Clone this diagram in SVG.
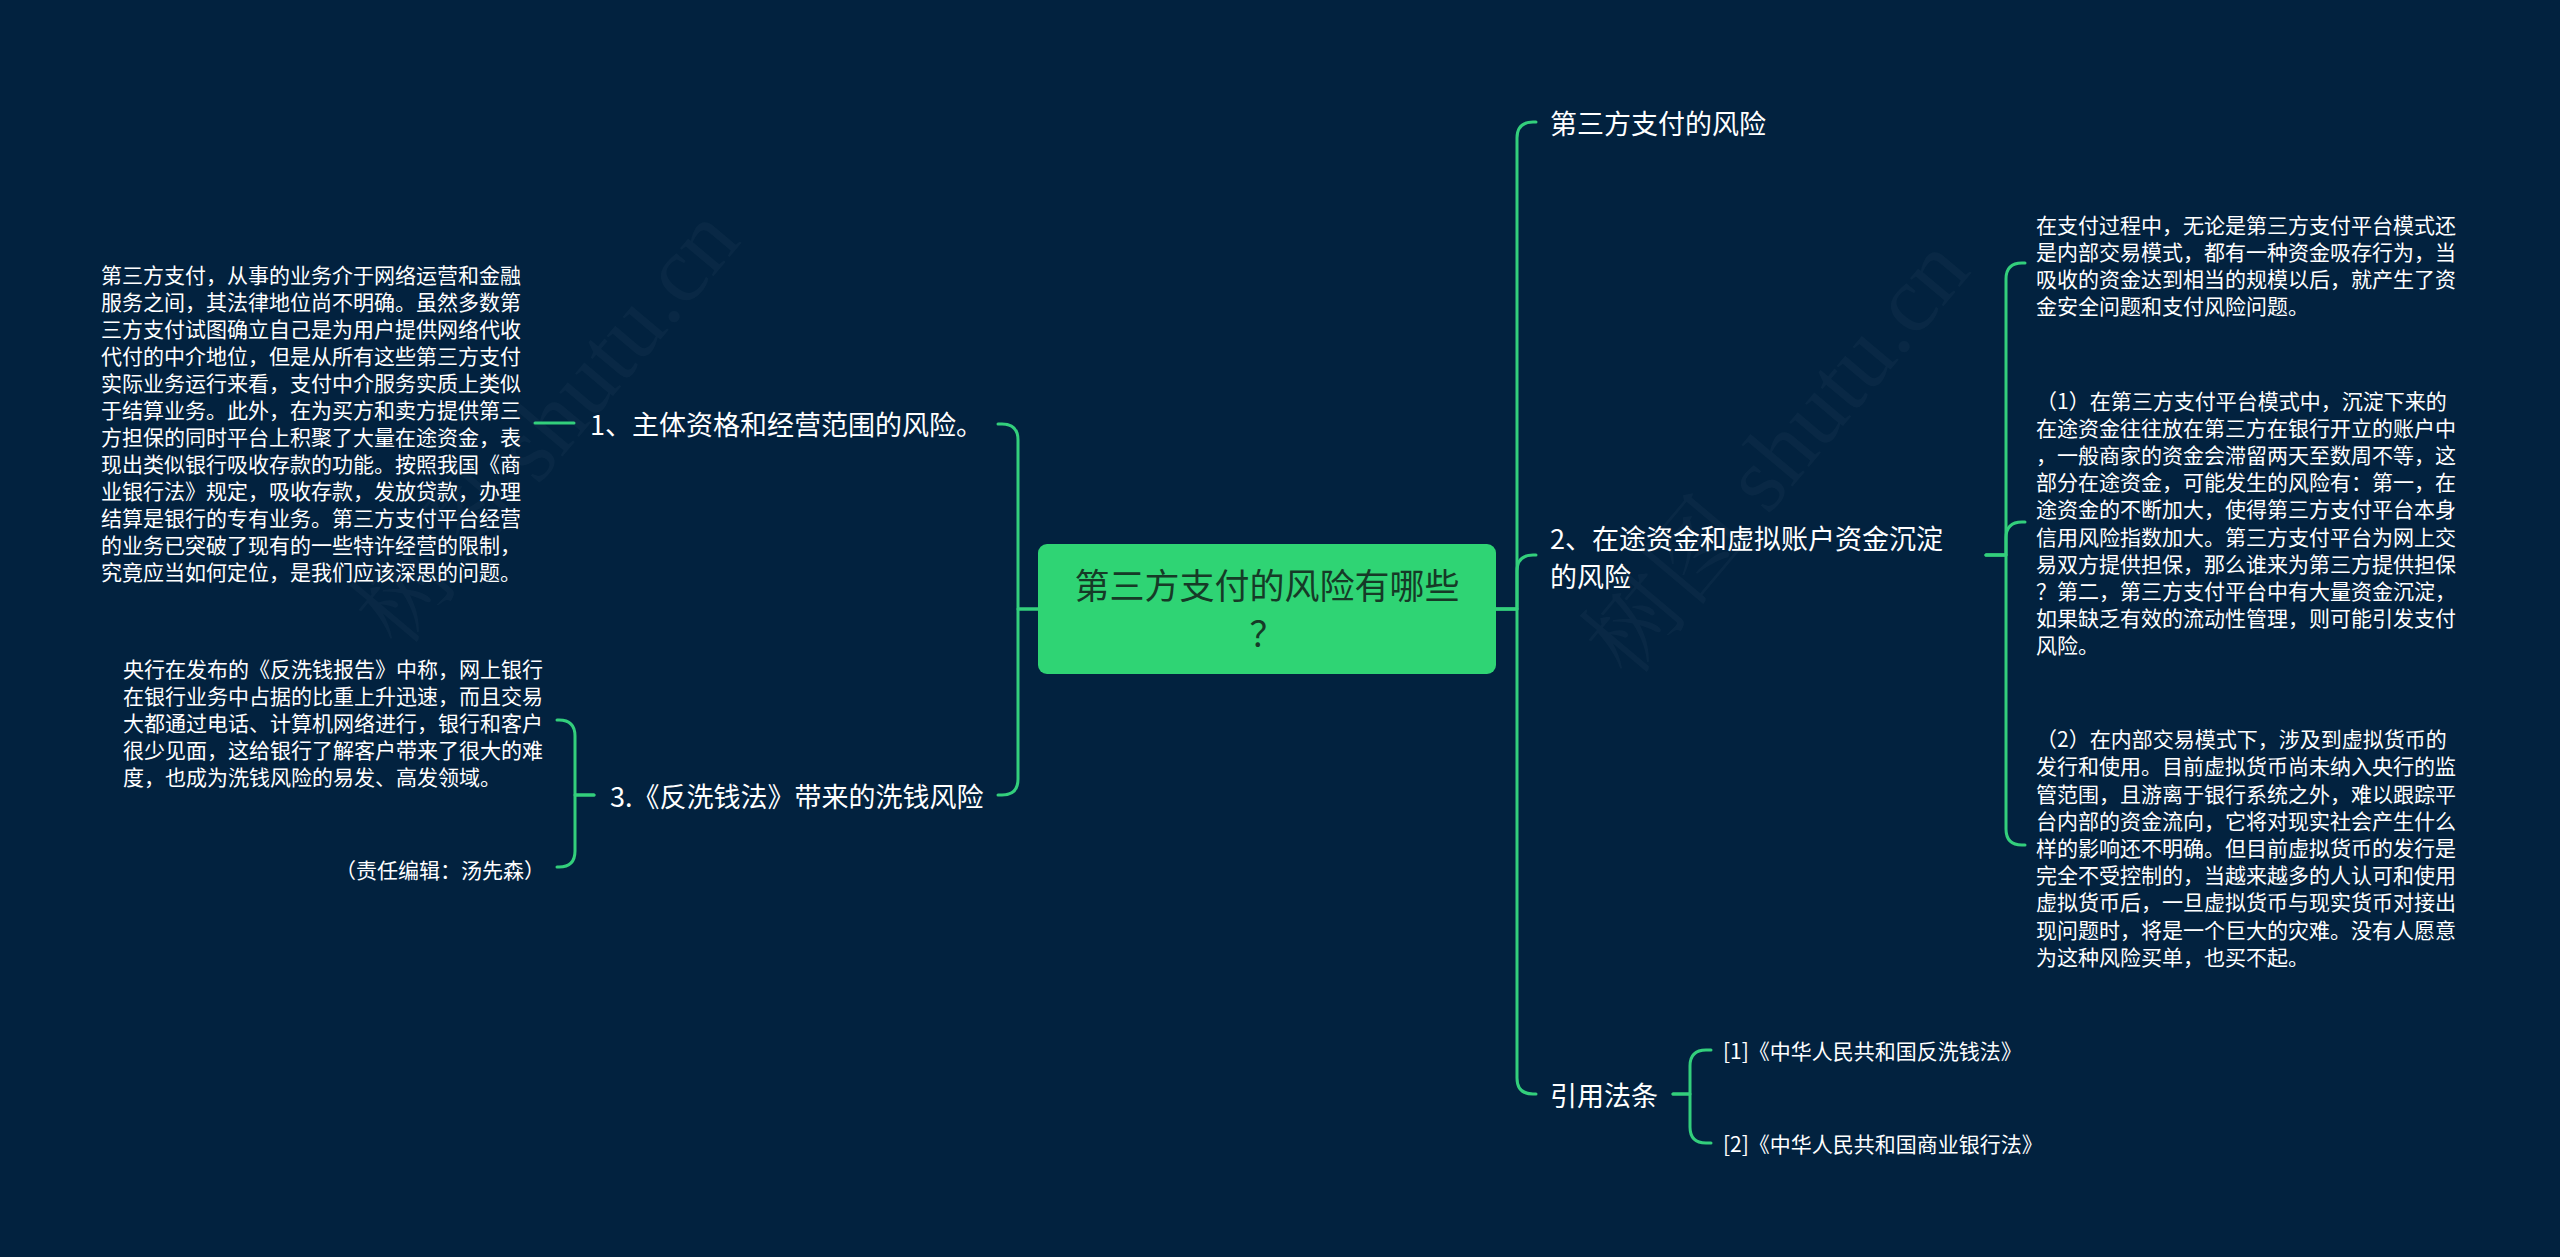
<svg xmlns="http://www.w3.org/2000/svg" width="2560" height="1257" viewBox="0 0 2560 1257">
<style>
.bg{fill:#02223f}
.c{fill:none;stroke:#33cf7c;stroke-width:3;stroke-linecap:round;stroke-linejoin:round}
.t{font-family:"Noto Sans CJK SC","Microsoft YaHei","Noto Sans",sans-serif;dominant-baseline:central;fill:#ffffff}
.main{font-size:27px}
.leaf{font-size:21px}
.root{font-size:35px;fill:#163a27;text-anchor:middle}
.wm{font-family:"Liberation Serif","Noto Serif CJK SC",serif;font-size:95px;fill:#ffffff;fill-opacity:0.03}
</style>
<rect class="bg" x="0" y="0" width="2560" height="1257"/>
<g id="watermark">
<text class="wm" transform="translate(400,650) rotate(-50)">树图 shutu.cn</text>
<text class="wm" transform="translate(1630,680) rotate(-50)">树图 shutu.cn</text>
</g>
<g id="connectors">
<path class="c" d="M1496,609 H1517 V138 Q1517,122 1533,122 H1536"/>
<path class="c" d="M1496,609 H1517 V571 Q1517,555 1533,555 H1536"/>
<path class="c" d="M1496,609 H1517 V1078 Q1517,1094 1533,1094 H1536"/>
<path class="c" d="M1038,609 H1018 V440 Q1018,424 1002,424 H998"/>
<path class="c" d="M1038,609 H1018 V779 Q1018,795 1002,795 H998"/>
<path class="c" d="M574,423 H535"/>
<path class="c" d="M594,795 H575 V736 Q575,720 559,720 H557"/>
<path class="c" d="M594,795 H575 V851 Q575,867 559,867 H557"/>
<path class="c" d="M1986,555 H2006 V279 Q2006,263 2022,263 H2025"/>
<path class="c" d="M1986,555 H2006 V538 Q2006,522 2022,522 H2025"/>
<path class="c" d="M1986,555 H2006 V829 Q2006,845 2022,845 H2025"/>
<path class="c" d="M1673,1094 H1690 V1066 Q1690,1050 1706,1050 H1711"/>
<path class="c" d="M1673,1094 H1690 V1127 Q1690,1143 1706,1143 H1711"/>
</g>
<g id="root">
<rect x="1038" y="544" width="458" height="130" rx="9" fill="#2fd474"/>
<text class="t root"><tspan x="1267" y="583">第三方支付的风险有哪些</tspan><tspan x="1267" y="631">？</tspan></text>
</g>
<g id="n-risk">
<text class="t main" x="1550" y="122">第三方支付的风险</text>
</g>
<g id="n-2">
<text class="t main"><tspan x="1550" y="537">2、在途资金和虚拟账户资金沉淀</tspan><tspan x="1550" y="575">的风险</tspan></text>
</g>
<g id="n-law">
<text class="t main" x="1550" y="1094">引用法条</text>
</g>
<g id="n-1">
<text class="t main" x="590" y="423">1、主体资格和经营范围的风险。</text>
</g>
<g id="n-3">
<text class="t main" x="610" y="795">3.《反洗钱法》带来的洗钱风险</text>
</g>
<g id="leaf-1">
<text class="t leaf" x="101" y="274">第三方支付，从事的业务介于网络运营和金融</text>
<text class="t leaf" x="101" y="301">服务之间，其法律地位尚不明确。虽然多数第</text>
<text class="t leaf" x="101" y="328">三方支付试图确立自己是为用户提供网络代收</text>
<text class="t leaf" x="101" y="355">代付的中介地位，但是从所有这些第三方支付</text>
<text class="t leaf" x="101" y="382">实际业务运行来看，支付中介服务实质上类似</text>
<text class="t leaf" x="101" y="409">于结算业务。此外，在为买方和卖方提供第三</text>
<text class="t leaf" x="101" y="436">方担保的同时平台上积聚了大量在途资金，表</text>
<text class="t leaf" x="101" y="463">现出类似银行吸收存款的功能。按照我国《商</text>
<text class="t leaf" x="101" y="490">业银行法》规定，吸收存款，发放贷款，办理</text>
<text class="t leaf" x="101" y="517">结算是银行的专有业务。第三方支付平台经营</text>
<text class="t leaf" x="101" y="544">的业务已突破了现有的一些特许经营的限制，</text>
<text class="t leaf" x="101" y="571">究竟应当如何定位，是我们应该深思的问题。</text>
</g>
<g id="leaf-3a">
<text class="t leaf" x="123" y="668">央行在发布的《反洗钱报告》中称，网上银行</text>
<text class="t leaf" x="123" y="695">在银行业务中占据的比重上升迅速，而且交易</text>
<text class="t leaf" x="123" y="722">大都通过电话、计算机网络进行，银行和客户</text>
<text class="t leaf" x="123" y="749">很少见面，这给银行了解客户带来了很大的难</text>
<text class="t leaf" x="123" y="776">度，也成为洗钱风险的易发、高发领域。</text>
</g>
<g id="leaf-3b">
<text class="t leaf" x="545" y="869" text-anchor="end">（责任编辑：汤先森）</text>
</g>
<g id="leaf-2a">
<text class="t leaf" x="2036" y="224">在支付过程中，无论是第三方支付平台模式还</text>
<text class="t leaf" x="2036" y="251">是内部交易模式，都有一种资金吸存行为，当</text>
<text class="t leaf" x="2036" y="278">吸收的资金达到相当的规模以后，就产生了资</text>
<text class="t leaf" x="2036" y="305">金安全问题和支付风险问题。</text>
</g>
<g id="leaf-2b">
<text class="t leaf" x="2036" y="400">（1）在第三方支付平台模式中，沉淀下来的</text>
<text class="t leaf" x="2036" y="427">在途资金往往放在第三方在银行开立的账户中</text>
<text class="t leaf" x="2036" y="454">，一般商家的资金会滞留两天至数周不等，这</text>
<text class="t leaf" x="2036" y="481">部分在途资金，可能发生的风险有：第一，在</text>
<text class="t leaf" x="2036" y="508">途资金的不断加大，使得第三方支付平台本身</text>
<text class="t leaf" x="2036" y="536">信用风险指数加大。第三方支付平台为网上交</text>
<text class="t leaf" x="2036" y="563">易双方提供担保，那么谁来为第三方提供担保</text>
<text class="t leaf" x="2036" y="590">？第二，第三方支付平台中有大量资金沉淀，</text>
<text class="t leaf" x="2036" y="617">如果缺乏有效的流动性管理，则可能引发支付</text>
<text class="t leaf" x="2036" y="644">风险。</text>
</g>
<g id="leaf-2c">
<text class="t leaf" x="2036" y="738">（2）在内部交易模式下，涉及到虚拟货币的</text>
<text class="t leaf" x="2036" y="765">发行和使用。目前虚拟货币尚未纳入央行的监</text>
<text class="t leaf" x="2036" y="793">管范围，且游离于银行系统之外，难以跟踪平</text>
<text class="t leaf" x="2036" y="820">台内部的资金流向，它将对现实社会产生什么</text>
<text class="t leaf" x="2036" y="847">样的影响还不明确。但目前虚拟货币的发行是</text>
<text class="t leaf" x="2036" y="874">完全不受控制的，当越来越多的人认可和使用</text>
<text class="t leaf" x="2036" y="901">虚拟货币后，一旦虚拟货币与现实货币对接出</text>
<text class="t leaf" x="2036" y="929">现问题时，将是一个巨大的灾难。没有人愿意</text>
<text class="t leaf" x="2036" y="956">为这种风险买单，也买不起。</text>
</g>
<g id="ref-1">
<text class="t leaf" x="1723" y="1050">[1]《中华人民共和国反洗钱法》</text>
</g>
<g id="ref-2">
<text class="t leaf" x="1723" y="1143">[2]《中华人民共和国商业银行法》</text>
</g>
</svg>
